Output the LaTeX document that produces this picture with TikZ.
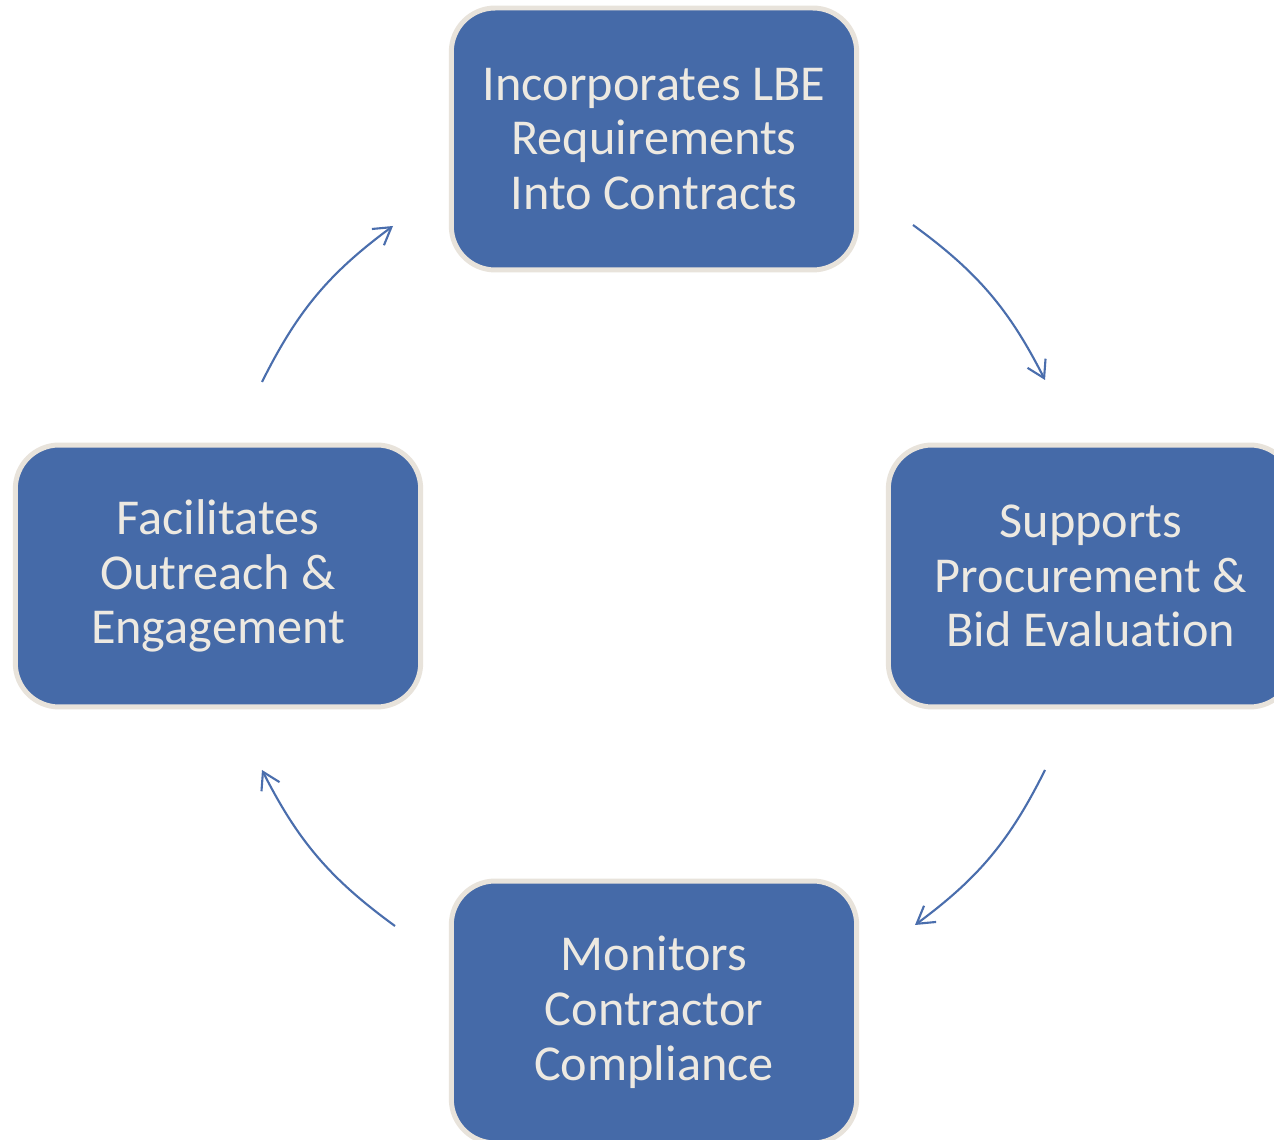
\documentclass[tikz,border=0pt]{standalone}
\usepackage{fontspec}
\setmainfont{Carlito}[Ligatures=NoCommon]
\usetikzlibrary{arrows.meta}
\definecolor{boxfill}{HTML}{456AA8}
\definecolor{boxedge}{HTML}{E8E3DB}
\definecolor{boxtext}{HTML}{EDE9E1}
\definecolor{arrowcol}{HTML}{4A6EAD}
\tikzset{
  stepbox/.style={draw=boxedge, line width=5*0.5669pt, fill=boxfill, rounded corners=44*0.5669pt,
    minimum width=407*0.5669pt, minimum height=263*0.5669pt, inner sep=0pt,
    text=boxtext, align=center, font=\fontsize{28.6}{31.2}\selectfont},
  cyclearrow/.style={draw=arrowcol, line width=1.2pt,
    -{Straight Barb[length=9.5pt,width=11.5pt,line width=1.2pt]}}
}
\begin{document}
\begin{tikzpicture}[x=0.02cm,y=0.02cm]
\useasboundingbox (0,0) rectangle (1274,1139);
\clip (0,0) rectangle (1274,1139);
\fill[white] (0,0) rectangle (1274,1139);
\node[stepbox] (top) at (654,1000) {Incorporates LBE\\Requirements\\Into Contracts};
\node[stepbox] (right) at (1091,563) {Supports\\Procurement \&\\Bid Evaluation};
\node[stepbox] (bottom) at (654,127) {Monitors\\Contractor\\Compliance};
\node[stepbox] (left) at (218,563) {Facilitates\\Outreach \&\\Engagement};
\coordinate (a1) at (913,914);
\coordinate (b1) at (1045,759);
\coordinate (a2) at (1045,369);
\coordinate (b2) at (915,214);
\coordinate (a3) at (395,213);
\coordinate (b3) at (262,369);
\coordinate (a4) at (262,757);
\coordinate (b4) at (393,913);
\draw[cyclearrow] (a1) to[bend left=13.5] (b1);
\draw[cyclearrow] (a2) to[bend left=13.5] (b2);
\draw[cyclearrow] (a3) to[bend left=13.5] (b3);
\draw[cyclearrow] (a4) to[bend left=13.5] (b4);
\end{tikzpicture}
\end{document}
